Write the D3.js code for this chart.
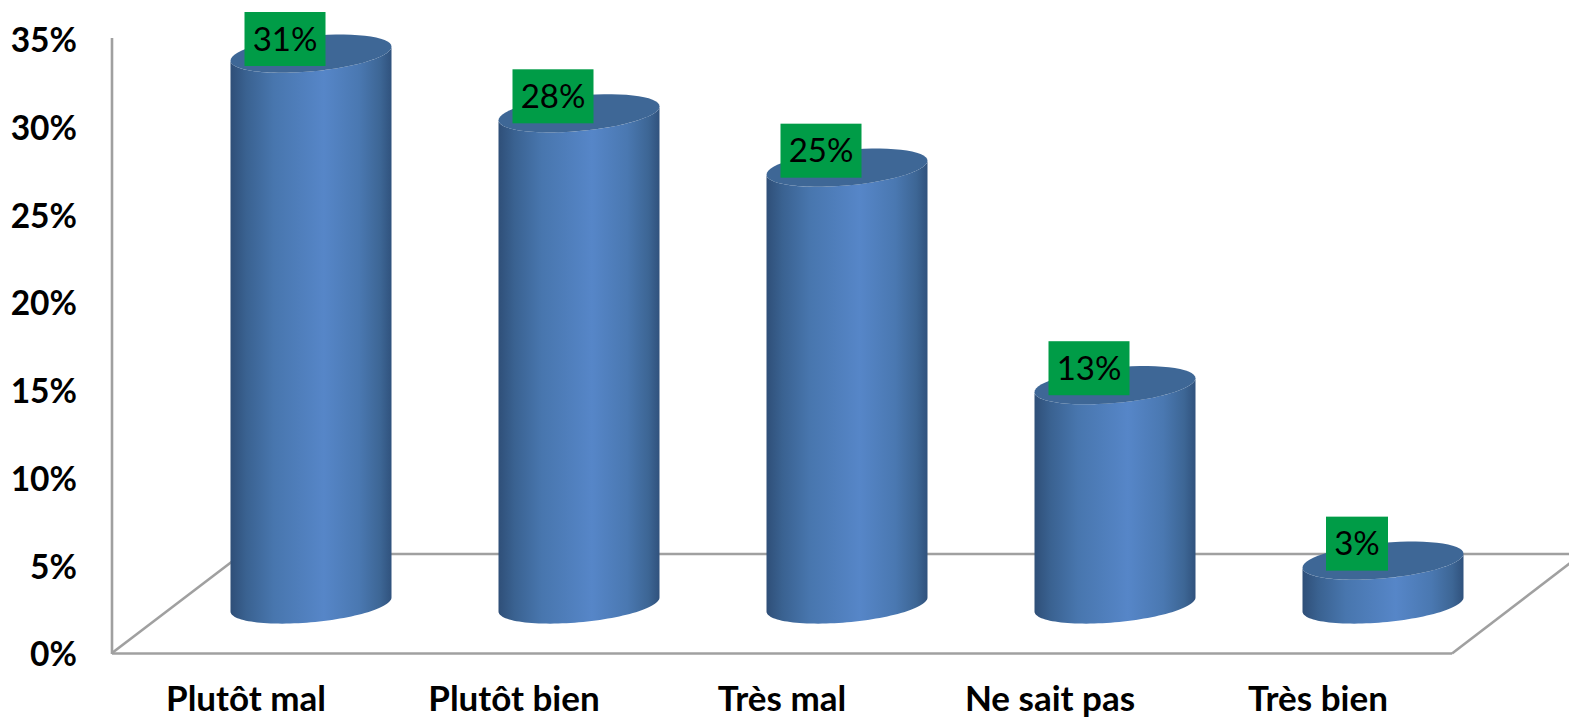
<!DOCTYPE html>
<html><head><meta charset="utf-8">
<script src="https://cdn.jsdelivr.net/npm/d3@7"></script>
<style>html,body{margin:0;padding:0;background:#fff;overflow:hidden}svg{display:block}text{font-family:Lato,"Open Sans",sans-serif}</style>
</head><body><svg id="c" width="1569" height="717"></svg>
<script>
const categories = ["Plutôt mal","Plutôt bien","Très mal","Ne sait pas","Très bien"];
const values = [31.4,28.0,24.9,12.5,2.5];
const valueLabels = ["31%","28%","25%","13%","3%"];
const yTicks = [0,5,10,15,20,25,30,35];

const svg = d3.select("#c");
const x = d3.scaleBand().domain(categories).range([112,1452]);
const y = d3.scaleLinear().domain([0,35]).range([653,39]);
const depth = {dx:130, dy:-99};
const rx = 80.5, ryk = 7, ry = 17.8;

const defs = svg.append("defs");
const grad = defs.append("linearGradient").attr("id","side");
[[0,"#2f4f78"],[0.1,"#3a6291"],[0.27,"#4876ae"],[0.58,"#5686c8"],[0.8,"#4a78b1"],[0.93,"#3d6695"],[1,"#30527d"]]
  .forEach(([o,c])=>grad.append("stop").attr("offset",o).attr("stop-color",c));

const grey="#a0a0a0";
const walls = svg.append("g").attr("fill","none").attr("stroke",grey).attr("stroke-width",2.6);
const x0=x.range()[0], x1=x.range()[1], y0=y(0);
const seg=(a,b,c,d)=>walls.append("line").attr("x1",a).attr("y1",b).attr("x2",c).attr("y2",d);
seg(x0,y(35)-1,x0,y0+1);
seg(x0,y0+0.5,x1,y0+0.5);
seg(x0,y0,x0+depth.dx,y0+depth.dy);
seg(x0+depth.dx,y0+depth.dy,x1+depth.dx,y0+depth.dy);
seg(x1,y0+0.5,x1+depth.dx,y0+depth.dy);

const yAxis = d3.axisLeft(y).tickValues(yTicks).tickFormat(d=>d+"%").tickSize(0).tickPadding(35);
const ya = svg.append("g").attr("transform",`translate(${x0},2)`).call(yAxis);
ya.select(".domain").remove();
ya.selectAll("text").attr("font-size",33.5).attr("font-weight",700).attr("fill","#000");

const xAxis = d3.axisBottom(x).tickSize(0).tickPadding(33);
const xa = svg.append("g").attr("transform",`translate(0,${y0})`).call(xAxis);
xa.select(".domain").remove();
xa.selectAll("text").attr("font-size",35).attr("font-weight",700).attr("fill","#000");

const pt=(cx,cy,t)=>[cx+rx*Math.cos(t), cy+ry*Math.sin(t)-ryk*Math.cos(t)];
const line=d3.line();
const ts=(a,b)=>d3.range(0,61).map(i=>a+(b-a)*i/60);
const cols = svg.append("g").selectAll("g").data(categories).join("g");
cols.each(function(c,i){
  const g=d3.select(this);
  const cx=x(c)+x.bandwidth()/2+depth.dx/2;
  const base=y0+depth.dy/2+1;
  const top=base-(y0-y(values[i]));
  const bottomArc=ts(0,Math.PI).map(t=>pt(cx,base,t));
  const topArc=ts(Math.PI,0).map(t=>pt(cx,top,t));
  g.append("path").attr("d",line(bottomArc.concat(topArc))+"Z").attr("fill","url(#side)");
  g.append("path").attr("d",line(ts(0,2*Math.PI).map(t=>pt(cx,top,t)))+"Z").attr("fill","#3e6796");
  const w=valueLabels[i].length>2?81:62, h=54;
  const bx=cx-26-w/2, by=Math.max(12,top-17-h/2);
  g.append("rect").attr("x",bx).attr("y",by).attr("width",w).attr("height",h).attr("fill","#009c47");
  g.append("text").attr("x",bx+w/2).attr("y",by+h/2+11.5).attr("text-anchor","middle")
    .attr("font-size",33).attr("fill","#000").text(valueLabels[i]);
});
</script></body></html>
